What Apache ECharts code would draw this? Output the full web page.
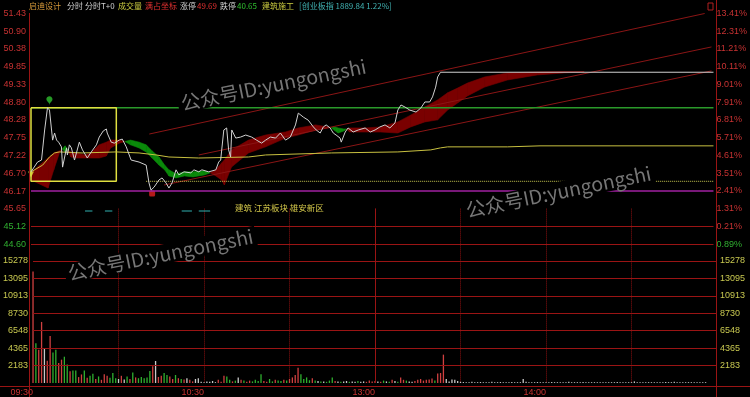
<!DOCTYPE html>
<html><head><meta charset="utf-8">
<script src="https://cdn.jsdelivr.net/npm/echarts@6/dist/echarts.min.js"></script>
<style>html,body{margin:0;padding:0;background:#000;}#c{width:750px;height:397px;}</style>
</head><body><div id="c"></div>
<script>
// ---- tick labels ----
const timeLabels = ['09:30','10:30','13:00','14:00'];
const timeTicks = [0,60,120,180];
const priceTicks = [51.43,50.90,50.38,49.85,49.33,48.80,48.28,47.75,47.22,46.70,46.17,45.65,45.12,44.60];
const pctTicks = [13.41,12.31,11.21,10.11,9.01,7.91,6.81,5.71,4.61,3.51,2.41,1.31,0.21,-0.89];
const volTicks = [15278,13095,10913,8730,6548,4365,2183];
const priceGridLevels = [45.12,44.60];

// ---- price line [minute, price] ----
const priceLine = [[0,46.74],[2.3,47.03],[3.7,47.09],[4.8,47.98],[5.8,48.64],[6.5,48.57],[7.6,47.68],[8.3,47.89],[9,47.68],[9.7,47.62],[10.7,47.48],[11.1,46.88],[11.8,46.85],[12.5,47.45],[12.8,47.24],[13.5,47.54],[14.2,47.45],[15.3,47.09],[17,47.62],[18.1,47.39],[19.8,47.15],[21.2,47.33],[23,47.54],[24,47.77],[25.4,47.95],[26.5,48.01],[26.8,47.89],[28.2,47.62],[29.3,47.59],[31,47.68],[32.1,47.71],[33.5,47.48],[35.2,47.09],[38,47.03],[40.5,46.94],[41.5,46.41],[42.2,46.2],[43.3,46.29],[45,46.5],[46.1,46.56],[47.5,46.41],[48.5,46.26],[49.6,46.41],[51,46.8],[52,46.65],[53.8,46.74],[56.2,46.71],[57.3,46.8],[59,46.74],[60.1,46.8],[62.5,46.74],[65,46.8],[66,47.03],[66.7,47.09],[67.8,47.98],[68.8,48.04],[69.5,47.39],[70.2,47.18],[70.6,47.98],[72,47.74],[73.7,47.77],[75.5,47.83],[77.6,47.77],[79.3,47.68],[81.1,47.59],[82.5,47.68],[84.2,47.77],[86,47.74],[87.7,47.89],[89.5,47.68],[91.2,47.77],[93,48.13],[94,48.48],[95.8,48.36],[97.5,48.27],[99.3,48.07],[100.3,47.98],[101.7,47.89],[102.8,48.07],[103.8,48.13],[105.2,48.04],[106.3,47.89],[107.3,47.83],[108.7,47.74],[109.1,47.62],[110.5,47.92],[111.5,48.04],[113.3,47.92],[115.1,47.98],[117.5,48.04],[119.3,47.92],[121,47.98],[122.7,48.07],[124.5,48.13],[126.2,48.04],[128,48.19],[129,48.57],[130.1,48.72],[131.5,48.66],[133.2,48.57],[135.4,48.51],[137.1,48.63],[138.5,48.81],[140.2,48.81],[141.2,48.96],[142.3,49.25],[143,49.55],[144,49.69],[240,49.69]];

// ---- average price line ----
const avgLine = [[0,46.74],[4.1,46.94],[6.5,47.18],[8.3,47.3],[10,47.33],[18,47.3],[30,47.33],[38,47.3],[44,47.24],[48.5,47.18],[59,47.15],[76.5,47.18],[82.5,47.24],[105.6,47.3],[129,47.33],[140.6,47.39],[144,47.45],[146.5,47.48],[167.5,47.48],[179,47.51],[240,47.51]];

// ---- ribbon indicator [minute, fast, slow] ----
const ribbon = [[0,46.71,46.5],[3,46.94,46.38],[6,47.15,46.26],[8,47.3,46.8],[10,47.36,47.3],[11,47.42,47.42],[12,47.33,47.51],[13,47.38,47.38],[14,47.33,47.18],[16,47.3,47.15],[19,47.24,47.15],[21,47.3,47.15],[24,47.54,47.15],[26.5,47.62,47.21],[28,47.68,47.45],[31,47.68,47.59],[33,47.64,47.64],[35,47.54,47.68],[38,47.45,47.62],[40.5,47.33,47.54],[42.6,47.15,47.36],[45,46.94,47.18],[47,46.8,46.94],[48.5,46.62,46.8],[51,46.56,46.68],[54,46.62,46.74],[57,46.59,46.74],[61,46.65,46.77],[63,46.71,46.71],[65,46.8,46.62],[67,47,46.5],[68,47.09,46.35],[70.5,47.39,46.88],[76.5,47.68,47.3],[82.5,47.83,47.48],[89.5,47.92,47.74],[94,48.04,47.83],[100,48.13,47.98],[104.5,48.07,48.04],[105.5,48.05,48.05],[107,47.95,48.07],[108,47.89,48.04],[110,47.95,48.01],[111,48.01,48.01],[112,48.04,47.92],[117.5,48.04,47.92],[123,48.07,47.92],[129,48.22,47.89],[133.5,48.42,48.07],[138.5,48.66,48.22],[143,48.87,48.28],[146.5,49.08,48.57],[150,49.22,48.78],[153.5,49.37,48.99],[159.5,49.55,49.25],[167.5,49.67,49.46],[178,49.7,49.61],[187.5,49.71,49.67],[194.5,49.71,49.7]];

// ---- channel lines ----
const channel1 = [[41.6,47.86],[236.9,51.43]];
const channel2 = [[59.0,47.24],[239.3,50.44]];
const channel3 = [[46.8,46.35],[239.3,49.73]];

// ---- horizontal levels ----
const highLevel = 48.64;
const lowLevel = 46.17;
const boxBottom = 46.46;
const boxEnd = 30;
const dottedStart = 40.5;
const dashLevel = 45.58;
const dashRanges = [[19,21.6],[26,28.6],[53,56.6],[59,63]];
const highMark = [6.5,48.72];
const lowMark = [42.6,46.10];
const openMark = [0,46.66];

// ---- volume per minute ----
const volume = [
13960,4970,4150,7640,4350,2800,5880,3820,4150,2500,
2920,3290,2300,1480,1560,1560,740,1070,1560,660,
900,1150,500,820,400,1100,900,650,1250,600,
500,900,450,800,500,1300,700,600,750,600,
700,1500,2100,2750,750,900,1250,1000,800,500,
1000,600,500,450,600,400,200,500,600,150,
100,200,150,250,100,400,150,900,800,400,
200,300,700,400,300,150,300,200,400,250,
1100,250,150,500,200,400,300,250,400,300,
500,700,1000,1900,1100,500,700,350,600,300,
250,200,200,150,300,700,250,200,150,200,
250,150,200,150,250,150,200,150,300,200,
250,200,150,300,200,150,400,250,150,700,
400,300,200,150,250,400,500,300,400,450,
550,300,1200,1250,3550,500,200,450,400,250,
150,120,100,100,150,100,100,120,100,100,
100,150,100,100,120,100,100,100,120,100,
100,100,500,150,100,100,100,120,100,100,
100,100,120,100,100,100,100,100,150,100,
100,100,100,120,100,100,100,100,100,100,
100,100,100,100,100,120,100,100,100,100,
100,200,100,100,100,100,100,100,100,100,
100,100,120,100,100,150,100,100,100,100,
100,100,100,100,100,100,100,0,0,0,
0];
const volDir =
'rgrrwrrggr'+'rggrggrrgr'+'ggrgrrrggg'+'wrwgrgrggg'+'ggrwrrggrr'+
'grgrwrrwww'+'wwwwwrrrgg'+'rgwrgrrggg'+'grrggrggrg'+'rrrrggggrg'+
'wgwgggrwgw'+'wgwwgwwrrr'+'rwrgwgrwgr'+'rgwwrrrrrr'+'rgrrrwwwww'+
'wwwwwwwwww'+'wwwwwwwwww'+'wwwwwwwwww'+'wwwwwwwwww'+'wwwwwwwwww'+
'wwwwwwwwww'+'wwwwwwwwww'+'wwwwwwwwww'+'wwwwwwwwww'+'w';

const GRID='#9a1414';
const dirColor = {r:'#d04040', g:'#2fb02f', w:'#c8c8c8'};

function hline(v, x0, x1, color, type, width){
  return {type:'line', xAxisIndex:0, yAxisIndex:0, symbol:'none', silent:true,
    data:[[x0,v],[x1,v]], lineStyle:{color, width:width||1, type:type||'solid'}};
}

const chart = echarts.init(document.getElementById('c'), null, {renderer:'canvas'});
const titleItems = [
  ['启迪设计',29,'#d89a3a'],['分时',67,'#d0d0d0'],['分时T+0',85,'#d0d0d0'],['成交量',118,'#cccc40'],
  ['满占坐标',145,'#e03030'],['涨停',180,'#d0d0d0'],['49.69',197,'#e03030'],['跌停',220,'#d0d0d0'],
  ['40.65',237,'#30c030'],['建筑施工',262,'#cccc40'],['[创业板指 1889.84 1.22%]',299,'#40b0b0']
];
const graphics = titleItems.map(t=>({type:'text', x:t[1], y:6, style:{text:t[0], fill:t[2], font:'8px "Noto Sans CJK SC", sans-serif', textVerticalAlign:'middle'}}));
graphics.push({type:'text', x:235, y:208, style:{text:'建筑 江苏板块 雄安新区', fill:'#d4c84a', font:'8.5px "Noto Sans CJK SC", sans-serif', textVerticalAlign:'middle'}});
const wm = [[178,104],[463,211],[65,274]];
wm.forEach(w=>graphics.push({type:'text', x:w[0], y:w[1], rotation:0.2, z:50,
  style:{text:'公众号ID:yungongshi', fill:'#767676', font:'19.5px "Noto Sans CJK SC", sans-serif', textVerticalAlign:'middle', backgroundColor:'#000', padding:[0,3]}}));
graphics.push({type:'line', shape:{x1:29.5,y1:13,x2:29.5,y2:397}, style:{stroke:GRID, lineWidth:1}, z:60});
graphics.push({type:'line', shape:{x1:716.5,y1:0,x2:716.5,y2:397}, style:{stroke:GRID, lineWidth:1}, z:60});
graphics.push({type:'line', shape:{x1:0,y1:386.5,x2:750,y2:386.5}, style:{stroke:GRID, lineWidth:1}, z:60});
graphics.push({type:'rect', shape:{x:708,y:3,width:5,height:7}, style:{stroke:'#b02020', fill:'none', lineWidth:1}, z:60});

const series = [];
series.push({type:'custom', xAxisIndex:0, yAxisIndex:0, data:ribbon, encode:{x:0,y:[1,2]}, silent:true,
  renderItem:function(params, api){
    const i = params.dataIndex;
    if (i >= ribbon.length-1) return null;
    const p = ribbon[i], q = ribbon[i+1];
    const pts = [api.coord([p[0],p[1]]), api.coord([q[0],q[1]]), api.coord([q[0],q[2]]), api.coord([p[0],p[2]])];
    const up = (p[1]+q[1]) >= (p[2]+q[2]);
    const col = up ? '#7a0000' : '#0a8a0a';
    return {type:'polygon', shape:{points:pts}, style:{fill:col, stroke:col, lineWidth:0.6}};
  }});
// horizontal grid lines in the lower panel
series.push({type:'line', xAxisIndex:0, yAxisIndex:0, symbol:'none', silent:true, data:[],
  markLine:{symbol:'none', silent:true, label:{show:false}, lineStyle:{color:GRID, type:'solid', width:1},
    data:priceGridLevels.map(v=>({yAxis:v}))}});
series.push({type:'line', xAxisIndex:1, yAxisIndex:2, symbol:'none', silent:true, data:[],
  markLine:{symbol:'none', silent:true, label:{show:false}, lineStyle:{color:GRID, type:'solid', width:1},
    data:volTicks.map(v=>({yAxis:v})).concat([{xAxis:120}])}});
[channel1,channel2,channel3].forEach(c=>series.push({type:'line', xAxisIndex:0, yAxisIndex:0, symbol:'none', silent:true, data:c, lineStyle:{color:'#8a1515', width:1}}));
series.push(hline(highLevel,0,240,'#2a9a2a',null,1.5));
series.push(hline(lowLevel,0,240,'#a020a0',null,1.5));
series.push(hline(boxBottom,dottedStart,240,'#c8c850','dotted',1));
series.push({type:'line', xAxisIndex:0, yAxisIndex:0, symbol:'none', silent:true,
  data:[[0,highLevel],[boxEnd,highLevel],[boxEnd,boxBottom],[0,boxBottom],[0,highLevel]], lineStyle:{color:'#e0e040', width:1.5}});
dashRanges.forEach(r=>series.push(hline(dashLevel,r[0],r[1],'#30b0b0',null,1)));
series.push({type:'line', xAxisIndex:0, yAxisIndex:0, symbol:'none', silent:true, data:avgLine, lineStyle:{color:'#c8c040', width:1}});
series.push({type:'line', xAxisIndex:0, yAxisIndex:0, symbol:'none', silent:true, data:priceLine, lineStyle:{color:'#d0d0d0', width:1}});
series.push({type:'scatter', xAxisIndex:0, yAxisIndex:0, silent:true, data:[highMark], symbol:'pin', symbolSize:10, itemStyle:{color:'#30c030'}});
series.push({type:'scatter', xAxisIndex:0, yAxisIndex:0, silent:true, data:[lowMark], symbol:'roundRect', symbolSize:6, itemStyle:{color:'#e02020'}});
series.push({type:'scatter', xAxisIndex:0, yAxisIndex:0, silent:true, data:[openMark], symbol:'triangle', symbolRotate:180, symbolSize:6, itemStyle:{color:'#e0e040'}});
series.push({type:'bar', xAxisIndex:1, yAxisIndex:2, barWidth:1.3, silent:true,
  data:volume.map((v,i)=>({value:[i,v], itemStyle:{color:dirColor[volDir[i]]}}))});

const lblFont = {fontSize:9, fontFamily:'Liberation Sans, Arial, sans-serif'};
chart.setOption({
  backgroundColor:'#000',
  animation:false,
  graphic:graphics,
  grid:[
    {left:31, right:33, top:13.5, height:230.6},
    {left:31, right:33, top:208.6, bottom:11}
  ],
  xAxis:[
    {type:'value', gridIndex:0, min:0, max:240, show:false},
    {type:'value', gridIndex:1, min:0, max:240, interval:30,
     axisLine:{show:false}, axisTick:{show:false},
     splitLine:{show:true, showMinLine:false, showMaxLine:false, lineStyle:{color:'#8a1010', type:'dotted', width:1}},
     axisLabel:Object.assign({customValues:timeTicks, formatter:v=>timeLabels[timeTicks.indexOf(v)], color:'#c83232', align:'right', margin:5}, lblFont)}
  ],
  yAxis:[
    {type:'value', gridIndex:0, min:44.60, max:51.43, axisLine:{show:false}, axisTick:{show:false}, splitLine:{show:false},
     axisLabel:Object.assign({customValues:priceTicks, formatter:v=>v.toFixed(2), color:v=>v<45.4?'#30b030':'#c83232', margin:5}, lblFont)},
    {type:'value', gridIndex:0, position:'right', min:-0.89, max:13.41, axisLine:{show:false}, axisTick:{show:false}, splitLine:{show:false},
     axisLabel:Object.assign({customValues:pctTicks, formatter:v=>Math.abs(v).toFixed(2)+'%', color:v=>v<0?'#30b030':'#c83232', margin:3}, lblFont)},
    {type:'value', gridIndex:1, min:0, max:volTicks[0]*10/7, axisLine:{show:false}, axisTick:{show:false},
     splitLine:{show:false},
     axisLabel:Object.assign({customValues:volTicks, formatter:v=>String(v), color:'#c8c850', margin:5}, lblFont)},
    {type:'value', gridIndex:1, position:'right', min:0, max:volTicks[0]*10/7, axisLine:{show:false}, axisTick:{show:false},
     splitLine:{show:false},
     axisLabel:Object.assign({customValues:volTicks, formatter:v=>String(v), color:'#c8c850', margin:3}, lblFont)}
  ],
  series:series
});
</script></body></html>
